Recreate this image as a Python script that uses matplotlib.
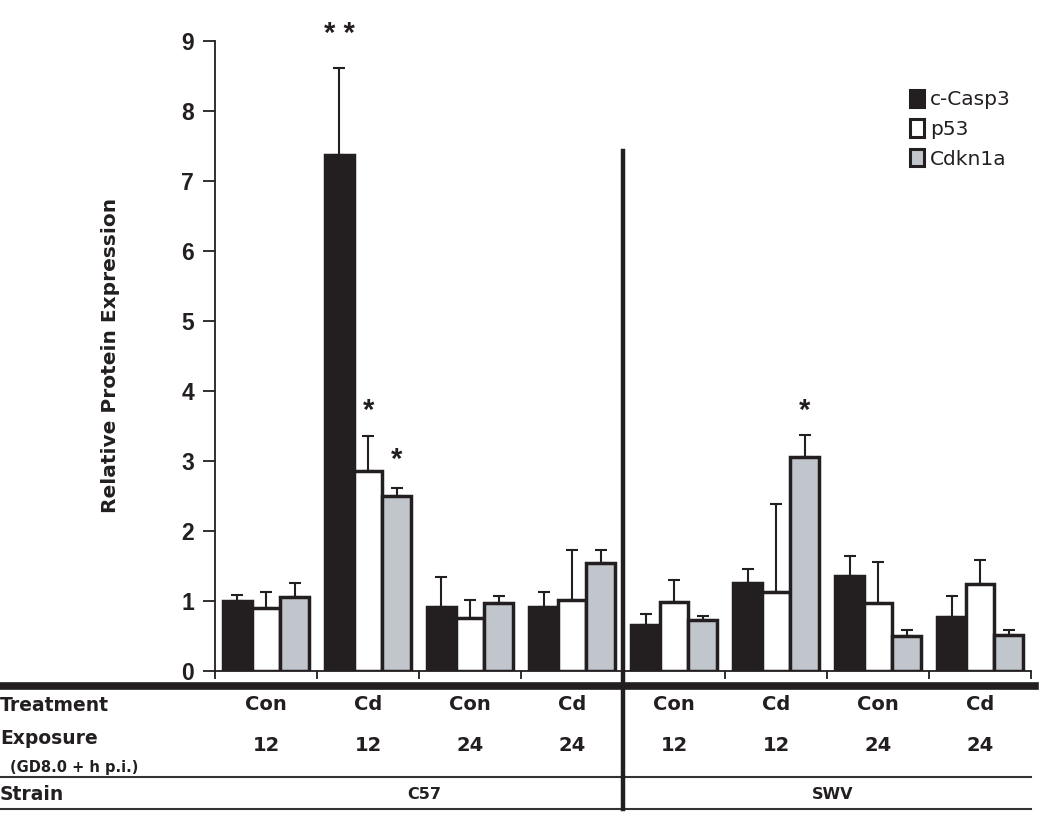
import matplotlib.pyplot as plt
import matplotlib.transforms as mtransforms
from matplotlib.patches import Patch
import numpy as np

plt.rcParams['font.family'] = ['DejaVu Sans']

# data
treatment = ['Con', 'Cd', 'Con', 'Cd', 'Con', 'Cd', 'Con', 'Cd']
exposure = ['12', '12', '24', '24', '12', '12', '24', '24']
strains = ['C57', 'SWV']
series = ['c-Casp3', 'p53', 'Cdkn1a']
casp3 = [1.00, 7.37, 0.91, 0.91, 0.66, 1.25, 1.36, 0.77]
casp3_err = [0.09, 1.24, 0.43, 0.22, 0.15, 0.21, 0.28, 0.30]
p53 = [0.90, 2.86, 0.75, 1.02, 0.99, 1.13, 0.97, 1.24]
p53_err = [0.23, 0.50, 0.27, 0.71, 0.31, 1.26, 0.59, 0.35]
cdkn1a = [1.05, 2.50, 0.975, 1.535, 0.73, 3.05, 0.50, 0.52]
cdkn1a_err = [0.21, 0.12, 0.09, 0.19, 0.06, 0.32, 0.09, 0.07]
yticks = list(range(10))
# significance marks: (group, series index, text, y)
stars = [(1, 0, '* *', 9.1), (1, 1, '*', 3.72), (1, 2, '*', 3.02), (5, 2, '*', 3.72)]

ink = '#231f20'
colors = [ink, 'white', '#c1c5cc']
w = 0.28

fig = plt.figure(figsize=(10.5, 8.22), dpi=100)
ax = fig.add_axes([0.2048, 0.1837, 0.7772, 0.7668])

x = np.arange(len(treatment)) + 0.5
vals = [casp3, p53, cdkn1a]
errs = [casp3_err, p53_err, cdkn1a_err]
for i in range(3):
    xi = x + (i - 1) * w
    ax.bar(xi, vals[i], w, color=colors[i], edgecolor=ink, linewidth=2.5, zorder=2)
    ax.errorbar(xi, vals[i], yerr=[np.zeros(8), errs[i]], fmt='none', ecolor=ink,
                elinewidth=1.5, capsize=4, capthick=1.5, zorder=1)

for g, s, t, yv in stars:
    ax.text(x[g] + (s - 1) * w, yv, t, ha='center', va='center', fontsize=21,
            fontweight='bold', color=ink, family='Liberation Sans')

ax.set_xlim(0, 8)
ax.set_ylim(0, 9)
ax.set_yticks(yticks, labels=[str(v) for v in yticks], fontfamily='Liberation Sans',
              fontweight='bold', fontsize=16.5)
ax.set_xticks(range(9))
ax.set_xticklabels([])
ax.tick_params(axis='y', length=9, width=1.3, pad=6, colors=ink)
ax.tick_params(axis='x', length=6, width=1.3, direction='out', colors=ink)
for sp in ['top', 'right']:
    ax.spines[sp].set_visible(False)
for sp in ['left', 'bottom']:
    ax.spines[sp].set_linewidth(1.3)
    ax.spines[sp].set_color(ink)
ax.set_ylabel('Relative Protein Expression', fontsize=14.5, fontweight='bold', labelpad=44,
              color=ink)

handles = [Patch(facecolor=colors[i], edgecolor=ink, linewidth=2.2) for i in range(3)]
leg = ax.legend(handles, series, loc='upper left', bbox_to_anchor=(0.842, 0.935), frameon=False,
                fontsize=14.5, handlelength=0.7, handleheight=0.95, handletextpad=0.3,
                labelspacing=0.5, borderaxespad=0)
for t in leg.get_texts():
    t.set_color(ink)

# table below the axis
trans = mtransforms.blended_transform_factory(ax.transData, fig.transFigure)
fig.add_artist(plt.Line2D([0, 0.986], [0.1655, 0.1655], transform=fig.transFigure,
                          color=ink, linewidth=5.5))
for yl in [0.0547, 0.0158]:
    fig.add_artist(plt.Line2D([0, 0.982], [yl, yl], transform=fig.transFigure,
                              color='#333333', linewidth=1.5))
ytop = 0.1837 + 0.7668 * 7.42 / 9
fig.add_artist(plt.Line2D([4, 4], [0.0158, ytop], transform=trans, color=ink,
                          linewidth=3.2))

fig.text(0.0, 0.1423, 'Treatment', fontsize=13.5, fontweight='bold', va='center', color=ink)
fig.text(0.0, 0.1015, 'Exposure', fontsize=13.5, fontweight='bold', va='center', color=ink)
fig.text(0.01, 0.0669, '(GD8.0 + h p.i.)', fontsize=10.5, fontweight='bold', va='center',
         color=ink)
fig.text(0.0, 0.0330, 'Strain', fontsize=13.5, fontweight='bold', va='center', color=ink)
for xi, t, e in zip(x, treatment, exposure):
    fig.text(xi, 0.1435, t, transform=trans, ha='center', va='center', fontsize=14,
             fontweight='bold', color=ink)
    fig.text(xi, 0.0925, e, transform=trans, ha='center', va='center', fontsize=14,
             fontweight='bold', color=ink)
for k, s in enumerate(strains):
    fig.text(2 + 4 * k + 0.05, 0.0330, s, transform=trans, ha='center', va='center',
             fontsize=11.5, fontweight='bold', color=ink)

fig.savefig('out.png', dpi=100)
